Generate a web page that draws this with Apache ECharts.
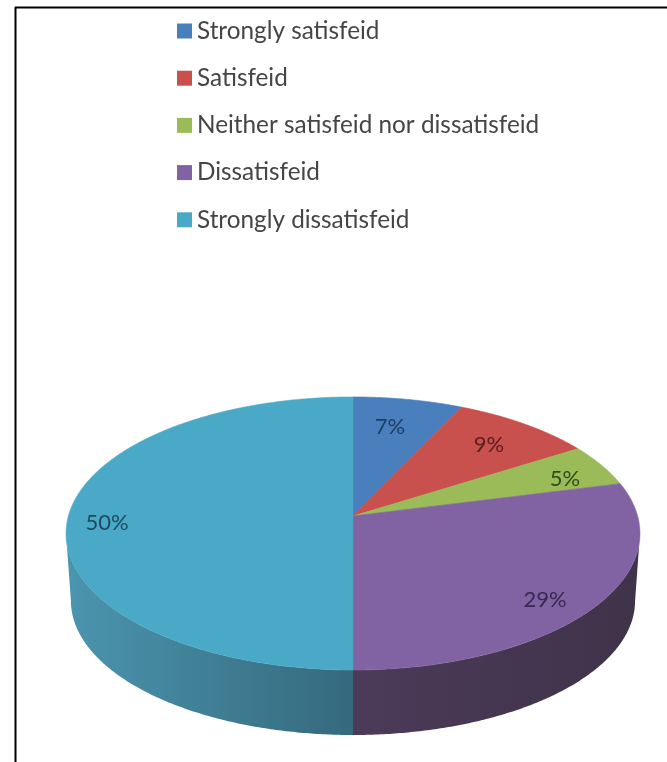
<!DOCTYPE html>
<html>
<head>
<meta charset="utf-8">
<style>html,body{margin:0;padding:0;background:#fff}#c{width:667px;height:762px}</style>
<script src="https://cdn.jsdelivr.net/npm/echarts@6/dist/echarts.min.js"></script>
</head>
<body>
<div id="c"></div>
<script>
// --- data ---
const categories = ['Strongly satisfeid', 'Satisfeid', 'Neither satisfeid nor dissatisfeid', 'Dissatisfeid', 'Strongly dissatisfeid'];
const shares = [7, 9, 5, 29, 50];

// --- styles ---
const topColors = ['#4a7fbd', '#c8504d', '#9bbb59', '#8163a3', '#4aa9c6'];
const labelColors = ['#1d3d62', '#5a2020', '#2f4d18', '#38294f', '#1c4a5e'];
const sideStops = [
  null, null, null,
  ['#4c3a59', '#3f3349'],   // dissatisfied, centre to right
  ['#4b95ae', '#35697d']    // strongly dissatisfied, left to centre
];
const labelRadius = [0.738, 0.7645, 0.8236, 0.852, 0.86];
const labelNudge = [-1.5, 0.7, 3, 5, -3.4];

// --- perspective layout of the disc ---
const CX = 353, CY = 516, RX = 284.6, RY = 134.3, K = 0.128;
const DEPTH = 67.6, BASE_SCALE = 0.983;
const EDGE = Math.acos(-K) * 180 / Math.PI;   // angle of the right silhouette point

function project(deg, r, scale, dy) {
  const a = deg * Math.PI / 180;
  const u = r * Math.sin(a), v = r * Math.cos(a), w = 1 + K * v;
  return [CX + scale * RX * u / w, CY + dy - scale * RY * v / w];
}
function arc(a0, a1, scale, dy) {
  const n = Math.max(2, Math.ceil(Math.abs(a1 - a0) * 2));
  const pts = [];
  for (let i = 0; i <= n; i++) pts.push(project(a0 + (a1 - a0) * i / n, 1, scale, dy));
  return pts;
}

// cumulative start/end in percent
let running = 0;
const spans = shares.map(v => { const s = [running, running + v]; running += v; return s; });

function makeRender(idx) {
  return function (params, api) {
    const a0 = api.value(0) * 3.6, a1 = api.value(1) * 3.6;
    const children = [];
    // side wall: only the part facing the viewer
    const s0 = Math.max(a0, EDGE), s1 = Math.min(a1, 360 - EDGE);
    if (s1 > s0 && sideStops[idx]) {
      const topEdge = arc(s0, s1, 1, 0);
      const botEdge = arc(s1, s0, BASE_SCALE, DEPTH);
      const xs = topEdge.concat(botEdge).map(p => p[0]);
      const x0 = Math.min.apply(null, xs), x1 = Math.max.apply(null, xs);
      const fill = new echarts.graphic.LinearGradient(x0, 0, x1, 0, [
        { offset: 0, color: sideStops[idx][0] },
        { offset: 1, color: sideStops[idx][1] }
      ], true);
      children.push({
        type: 'polygon', z2: 1,
        shape: { points: topEdge.concat(botEdge) },
        style: { fill: fill }
      });
    }
    // top face
    const face = [[CX, CY]].concat(arc(a0, a1, 1, 0));
    children.push({
      type: 'polygon', z2: 10,
      shape: { points: face },
      style: { fill: topColors[idx], stroke: topColors[idx], lineWidth: 0.6 }
    });
    // value label
    const mid = (a0 + a1) / 2 + labelNudge[idx];
    const p = project(mid, labelRadius[idx], 1, 0);
    children.push({
      type: 'text', z2: 20, x: p[0], y: p[1],
      style: {
        text: (api.value(1) - api.value(0)) + '%',
        fill: labelColors[idx], font: '22px Lato, "Open Sans", sans-serif',
        align: 'center', verticalAlign: 'middle'
      }
    });
    return { type: 'group', children: children };
  };
}

const chart = echarts.init(document.getElementById('c'), null, { width: 667, height: 762, renderer: 'canvas' });
chart.setOption({
  animation: false,
  backgroundColor: '#ffffff',
  legend: {
    orient: 'vertical', left: 177, top: 19, padding: 0,
    itemWidth: 15, itemHeight: 15, itemGap: 23.2,
    icon: 'rect', selectedMode: false,
    data: categories,
    textStyle: { fontFamily: 'Lato, "Open Sans", sans-serif', fontSize: 24.3, color: '#454545', padding: [0, 0, 0, 0] },
    formatter: '{name}'
  },
  graphic: [
    { type: 'line', shape: { x1: 15.5, y1: 7, x2: 15.5, y2: 762 }, style: { stroke: '#000', lineWidth: 2 } },
    { type: 'line', shape: { x1: 15, y1: 7.5, x2: 667, y2: 7.5 }, style: { stroke: '#000', lineWidth: 2 } }
  ],
  series: categories.map((name, i) => ({
    type: 'custom',
    name: name,
    coordinateSystem: 'none',
    silent: true,
    itemStyle: { color: topColors[i] },
    renderItem: makeRender(i),
    data: [spans[i]]
  }))
});
</script>
</body>
</html>
